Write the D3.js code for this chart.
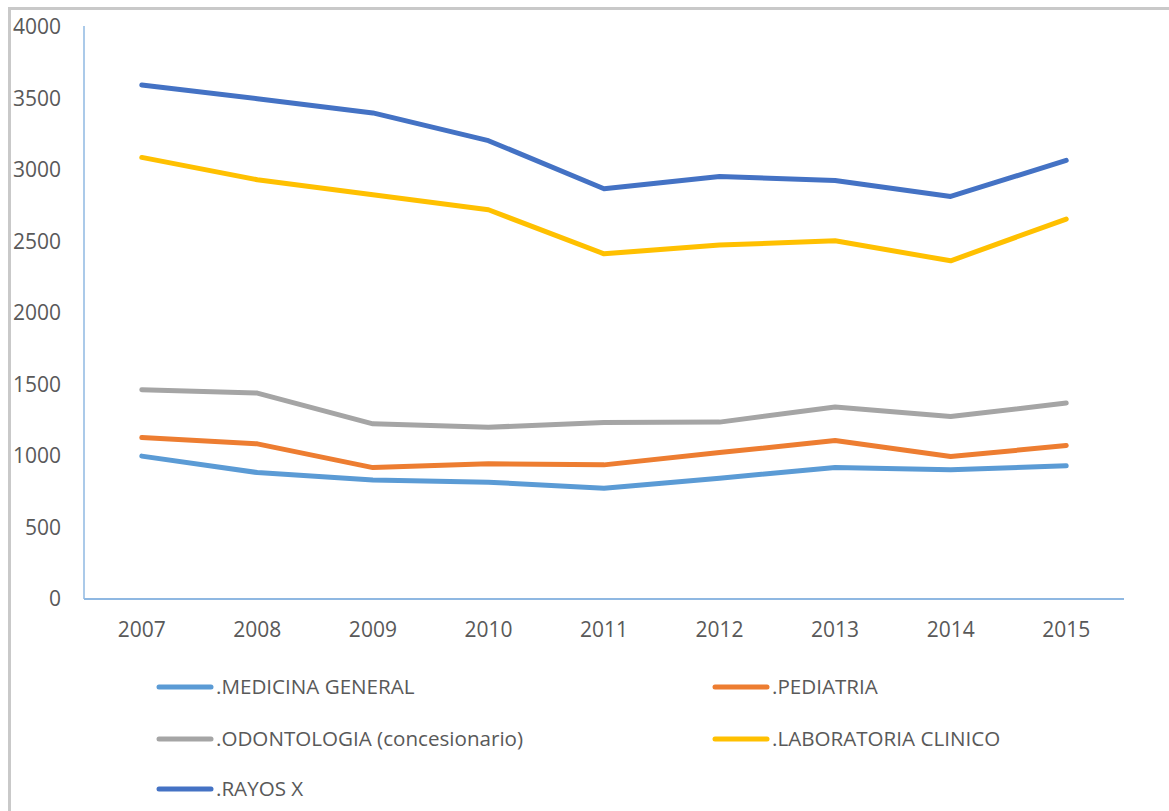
<!DOCTYPE html>
<html>
<head>
<meta charset="utf-8">
<script src="https://cdn.jsdelivr.net/npm/d3@7"></script>
<style>
  html, body { margin: 0; padding: 0; background: #fff; }
  svg { display: block; }
  text { font-family: "Open Sans", sans-serif; fill: #595959; }
</style>
</head>
<body>
<svg id="chart" width="1169" height="811"></svg>
<script>
const years = ["2007", "2008", "2009", "2010", "2011", "2012", "2013", "2014", "2015"];
const yTicks = [0, 500, 1000, 1500, 2000, 2500, 3000, 3500, 4000];

const medicinaGeneral = [999, 884, 833, 817, 775, 845, 919, 903, 931];
const pediatria = [1129, 1085, 919, 945, 938, 1024, 1108, 996, 1073];
const odontologia = [1463, 1440, 1225, 1201, 1234, 1237, 1342, 1276, 1370];
const laboratorio = [3088, 2932, 2827, 2722, 2414, 2475, 2505, 2365, 2657];
const rayosX = [3594, 3499, 3399, 3205, 2869, 2955, 2927, 2815, 3067];

const seriesNames = [".MEDICINA GENERAL", ".PEDIATRIA", ".ODONTOLOGIA (concesionario)", ".LABORATORIA CLINICO", ".RAYOS X"];
const seriesColors = ["#5b9bd5", "#ed7d31", "#a5a5a5", "#ffc000", "#4472c4"];
const seriesValues = [medicinaGeneral, pediatria, odontologia, laboratorio, rayosX];

const series = seriesNames.map((name, i) => ({
    name: name,
    color: seriesColors[i],
    values: seriesValues[i]
}));

const svg = d3.select("#chart");

// outer frame (only top and left edges show in the picture)
svg.append("path")
    .attr("d", "M9.5,811 V8.5 H1169")
    .attr("fill", "none")
    .attr("stroke", "#c9c9c9")
    .attr("stroke-width", 3);

const plot = {left: 84, right: 1124, top: 27, bottom: 599};

const x = d3.scaleBand()
    .domain(years)
    .range([plot.left, plot.right]);

const y = d3.scaleLinear()
    .domain([0, 4000])
    .range([plot.bottom, plot.top]);

// y axis labels
const yAxis = d3.axisLeft(y)
    .tickValues(yTicks)
    .tickFormat(d3.format("d"))
    .tickSize(0)
    .tickPadding(23);

svg.append("g")
    .attr("transform", "translate(" + plot.left + ",0)")
    .call(yAxis)
    .call(g => g.select(".domain").remove())
    .call(g => g.selectAll("text")
        .attr("font-size", 21)
        .attr("font-family", null)
        .attr("fill", "#595959"));

// x axis labels
const xAxis = d3.axisBottom(x)
    .tickSize(0)
    .tickPadding(23);

svg.append("g")
    .attr("transform", "translate(0," + plot.bottom + ")")
    .call(xAxis)
    .call(g => g.select(".domain").remove())
    .call(g => g.selectAll("text")
        .attr("font-size", 21)
        .attr("font-family", null)
        .attr("fill", "#595959"));

// axis lines
svg.append("line")
    .attr("x1", plot.left).attr("x2", plot.left)
    .attr("y1", y(4000) - 1).attr("y2", y(0))
    .attr("stroke", "#8fb8e2")
    .attr("stroke-width", 1.5);

svg.append("line")
    .attr("x1", plot.left).attr("x2", plot.right)
    .attr("y1", y(0)).attr("y2", y(0))
    .attr("stroke", "#8fb8e2")
    .attr("stroke-width", 2);

const line = d3.line()
    .x((d, i) => x(years[i]) + x.bandwidth() / 2)
    .y(d => y(d));

svg.append("g")
    .selectAll("path")
    .data(series)
    .join("path")
    .attr("d", d => line(d.values))
    .attr("fill", "none")
    .attr("stroke", d => d.color)
    .attr("stroke-width", 5)
    .attr("stroke-linecap", "round")
    .attr("stroke-linejoin", "round");

// legend, two columns
const legendCols = [157, 713];
const legendRows = [687, 739, 789];

const legend = svg.append("g")
    .selectAll("g")
    .data(series)
    .join("g")
    .attr("transform", (d, i) => "translate(" + legendCols[i % 2] + "," + legendRows[Math.floor(i / 2)] + ")");

legend.append("line")
    .attr("x1", 2).attr("x2", 54)
    .attr("y1", 0).attr("y2", 0)
    .attr("stroke", d => d.color)
    .attr("stroke-width", 5)
    .attr("stroke-linecap", "round");

legend.append("text")
    .attr("x", 59)
    .attr("y", 0)
    .attr("dy", "0.35em")
    .attr("font-size", 20.6)
    .text(d => d.name);
</script>
</body>
</html>
